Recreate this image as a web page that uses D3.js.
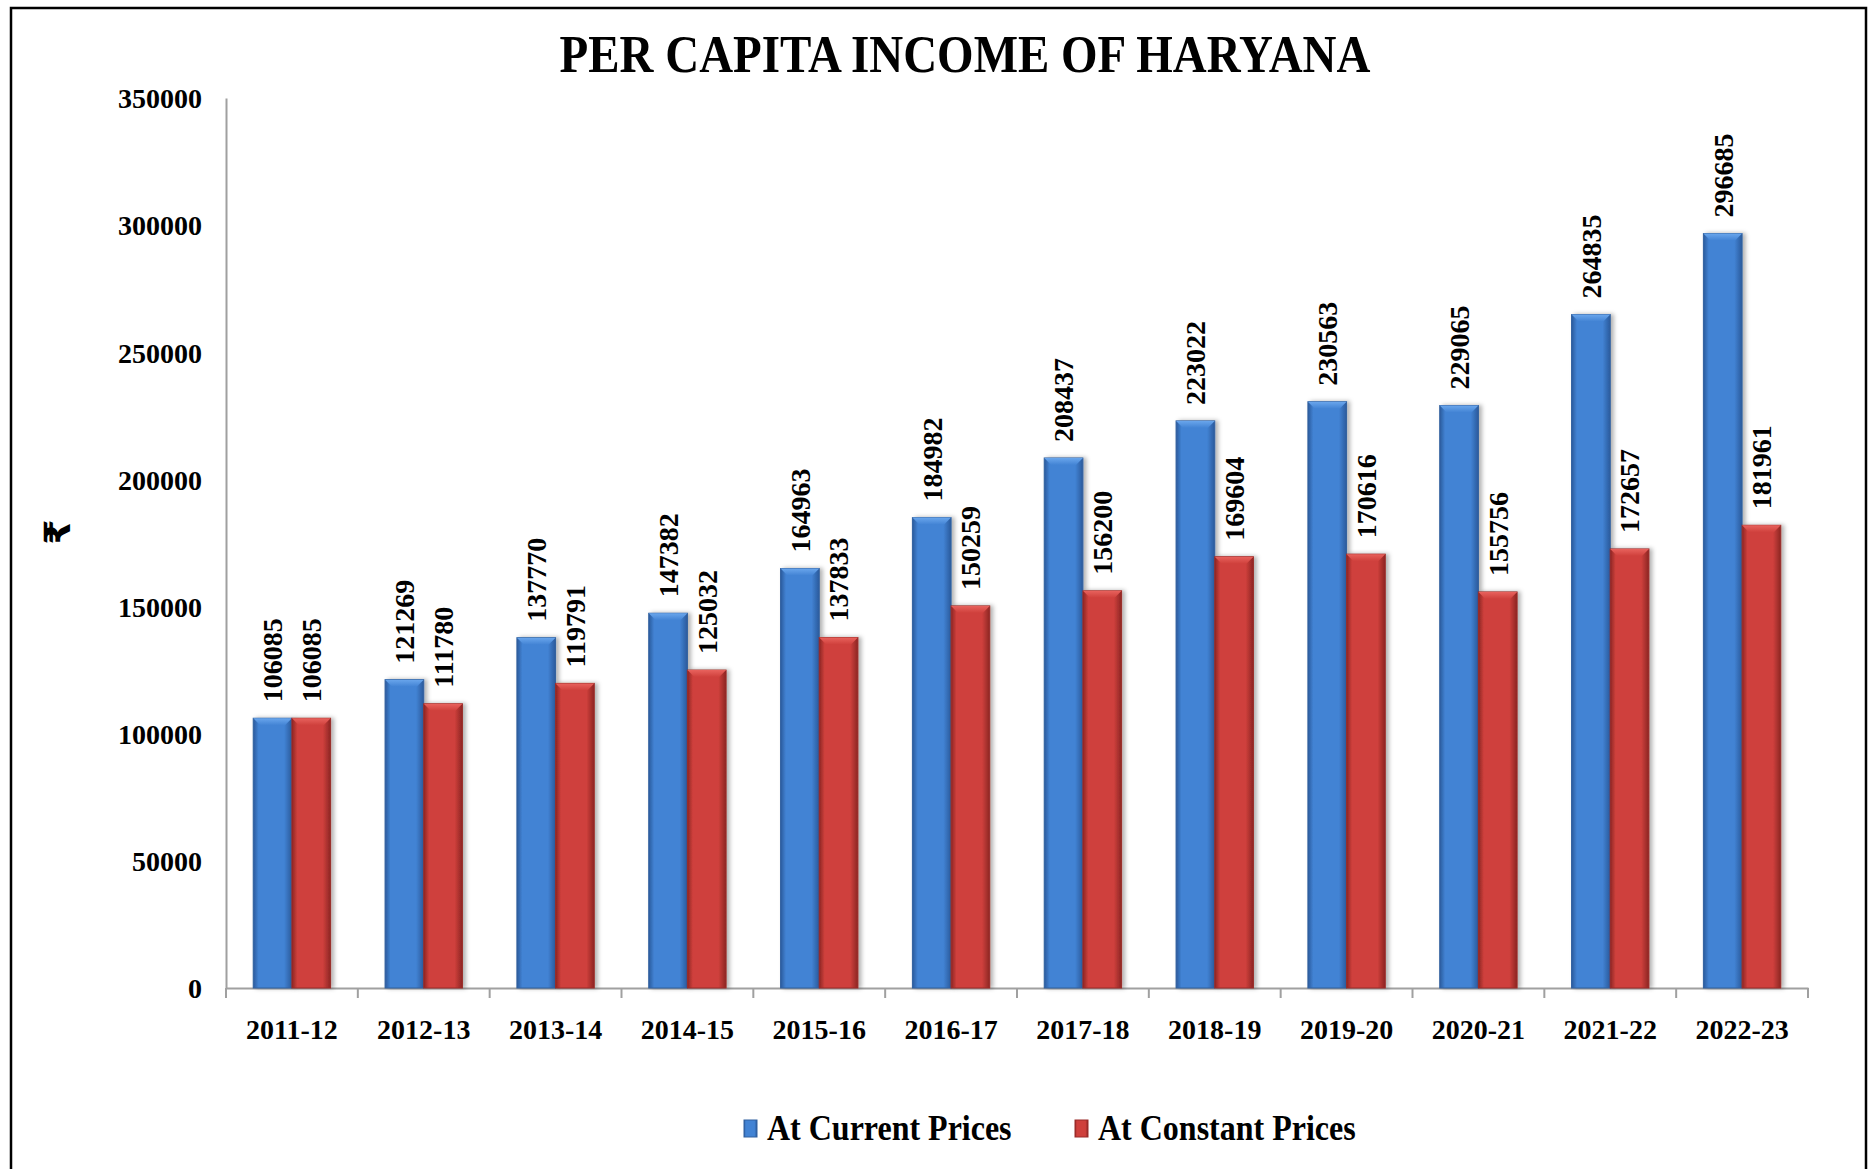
<!DOCTYPE html>
<html>
<head>
<meta charset="utf-8">
<script src="https://cdn.jsdelivr.net/npm/d3@7"></script>
<style>
  body { margin: 0; background: #fff; }
  text { font-family: "Liberation Serif", "Times New Roman", serif; font-weight: bold; fill: #000; }
</style>
</head>
<body>
<script>
var years = ["2011-12", "2012-13", "2013-14", "2014-15", "2015-16", "2016-17",
             "2017-18", "2018-19", "2019-20", "2020-21", "2021-22", "2022-23"];
var currentPrices = [106085, 121269, 137770, 147382, 164963, 184982,
                     208437, 223022, 230563, 229065, 264835, 296685];
var constantPrices = [106085, 111780, 119791, 125032, 137833, 150259,
                      156200, 169604, 170616, 155756, 172657, 181961];
var seriesNames = ["At Current Prices", "At Constant Prices"];
var yTicks = [0, 50000, 100000, 150000, 200000, 250000, 300000, 350000];

var svgWidth = 1868;
var svgHeight = 1169;

var chartMargin = { top: 98, right: 60, bottom: 181, left: 226 };
var chartWidth = svgWidth - chartMargin.left - chartMargin.right;
var chartHeight = svgHeight - chartMargin.top - chartMargin.bottom;

var svg = d3.select('body').append('svg')
    .attr('width', svgWidth)
    .attr('height', svgHeight);

// gradients for the bevelled bars
var defs = svg.append('defs');
var palette = {
    "At Current Prices": { dark: "#2a5a9c", mid: "#4283d4", light: "#6aa6ec", edge: "#31609f" },
    "At Constant Prices": { dark: "#8c2523", mid: "#cf403c", light: "#e8625d", edge: "#9a2b28" }
};
seriesNames.forEach(function(name, i) {
    var c = palette[name];
    var g = defs.append('linearGradient').attr('id', 'body' + i)
        .attr('x1', 0).attr('x2', 1).attr('y1', 0).attr('y2', 0);
    g.append('stop').attr('offset', '0%').attr('stop-color', c.dark);
    g.append('stop').attr('offset', '14%').attr('stop-color', c.mid);
    g.append('stop').attr('offset', '80%').attr('stop-color', c.mid);
    g.append('stop').attr('offset', '100%').attr('stop-color', c.dark);
    var t = defs.append('linearGradient').attr('id', 'top' + i)
        .attr('x1', 0).attr('x2', 0).attr('y1', 0).attr('y2', 1);
    t.append('stop').attr('offset', '0%').attr('stop-color', c.light);
    t.append('stop').attr('offset', '100%').attr('stop-color', c.mid);
});
var shadow = defs.append('filter').attr('id', 'shadow')
    .attr('x', '-20%').attr('y', '-5%').attr('width', '150%').attr('height', '110%');
shadow.append('feDropShadow').attr('dx', 3).attr('dy', 0).attr('stdDeviation', 2)
    .attr('flood-color', '#000').attr('flood-opacity', 0.3);

// outer frame
svg.append('rect')
    .attr('x', 11).attr('y', 8)
    .attr('width', svgWidth - 13).attr('height', svgHeight + 20)
    .attr('fill', 'none').attr('stroke', '#000').attr('stroke-width', 2.5);

// title
svg.append('text')
    .attr('transform', 'translate(965,72) scale(1,1.12)')
    .attr('text-anchor', 'middle')
    .style('font-size', '47px')
    .text('PER CAPITA INCOME OF HARYANA');

var chartGroup = svg.append('g')
    .attr('transform', `translate(${chartMargin.left}, ${chartMargin.top})`);

// scales
var xScale = d3.scaleBand()
    .domain(years)
    .range([0, chartWidth]);

var xInner = d3.scaleBand()
    .domain(seriesNames)
    .range([0, xScale.bandwidth()])
    .paddingOuter(0.704);

var yScale = d3.scaleLinear()
    .domain([0, 350000])
    .range([chartHeight, 0]);

// y axis (line + labels only)
var yAxis = chartGroup.append('g')
    .call(d3.axisLeft(yScale).tickValues(yTicks).tickSize(0).tickPadding(24).tickFormat(d3.format('d')));
yAxis.select('.domain').attr('stroke', '#a0a0a0').attr('stroke-width', 2);
yAxis.selectAll('text').style('font-size', '28px').attr('dy', '0.35em');

// x axis with ticks on category boundaries
var xAxis = chartGroup.append('g')
    .attr('transform', `translate(0, ${chartHeight})`)
    .call(d3.axisBottom(xScale).tickSize(0).tickPadding(31));
xAxis.select('.domain').attr('stroke', '#a0a0a0').attr('stroke-width', 2);
xAxis.selectAll('text').style('font-size', '28px');

xAxis.selectAll('line.boundary')
    .data(years.concat(['end']))
    .enter()
    .append('line')
    .attr('class', 'boundary')
    .attr('x1', function(d, i) { return i * xScale.step(); })
    .attr('x2', function(d, i) { return i * xScale.step(); })
    .attr('y1', 0).attr('y2', 10)
    .attr('stroke', '#a0a0a0').attr('stroke-width', 2);

// bars
var rows = [];
years.forEach(function(y, i) {
    rows.push({ year: y, series: seriesNames[0], s: 0, value: currentPrices[i] });
    rows.push({ year: y, series: seriesNames[1], s: 1, value: constantPrices[i] });
});

var bev = 7;
var bars = chartGroup.selectAll('g.bar')
    .data(rows)
    .enter()
    .append('g')
    .attr('class', 'bar')
    .attr('transform', function(d) { return `translate(${xScale(d.year) + xInner(d.series)}, 0)`; });

bars.append('rect')
    .attr('x', 0)
    .attr('y', function(d) { return yScale(d.value); })
    .attr('width', xInner.bandwidth())
    .attr('height', function(d) { return chartHeight - yScale(d.value); })
    .attr('fill', function(d) { return 'url(#body' + d.s + ')'; })
    .attr('stroke', function(d) { return palette[d.series].edge; })
    .attr('stroke-width', 1)
    .attr('filter', 'url(#shadow)');

bars.append('path')
    .attr('d', function(d) {
        var y0 = yScale(d.value), w = xInner.bandwidth();
        return `M0,${y0} L${w},${y0} L${w - bev},${y0 + bev} L${bev},${y0 + bev} Z`;
    })
    .attr('fill', function(d) { return 'url(#top' + d.s + ')'; });

// value labels
bars.append('text')
    .attr('transform', function(d) {
        return `translate(${xInner.bandwidth() / 2}, ${yScale(d.value) - 16}) rotate(-90)`;
    })
    .attr('dy', '0.35em')
    .style('font-size', '28px')
    .text(function(d) { return d.value; });

// y axis title
svg.append('text')
    .attr('transform', 'translate(57,532) rotate(-90)')
    .attr('text-anchor', 'middle')
    .attr('dy', '0.35em')
    .style('font-family', '"DejaVu Sans", "Noto Sans", sans-serif')
    .style('font-size', '36px')
    .text('₹');

// legend
var legendX = [744, 1075];
var legend = svg.selectAll('g.legend')
    .data(seriesNames)
    .enter()
    .append('g')
    .attr('class', 'legend')
    .attr('transform', function(d, i) { return `translate(${legendX[i]}, 1130)`; });

legend.append('rect')
    .attr('x', 0).attr('y', -10)
    .attr('width', 13).attr('height', 17)
    .attr('fill', function(d, i) { return 'url(#body' + i + ')'; })
    .attr('stroke', function(d) { return palette[d].edge; });

legend.append('text')
    .attr('transform', 'translate(23,10) scale(1,1.1)')
    .style('font-size', '32px')
    .text(function(d) { return d; });
</script>
</body>
</html>
